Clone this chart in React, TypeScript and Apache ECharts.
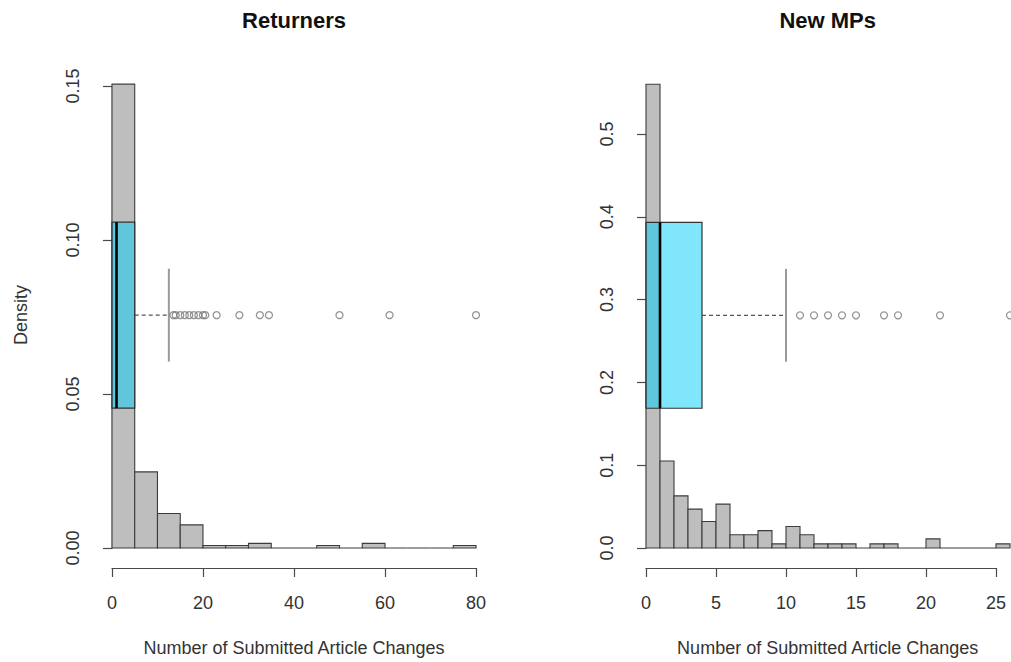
import React, { useEffect, useRef } from "react";
import * as echarts from "echarts";

// ---- Data ----
const retBreaks = [0, 5, 10, 15, 20, 25, 30, 35, 40, 45, 50, 55, 60, 65, 70, 75, 80];
const retDensity = [0.1506, 0.0247, 0.0112, 0.0075, 0.0008, 0.0008, 0.0015, 0, 0, 0.0008, 0, 0.0015, 0, 0, 0, 0.0008];
const retBox = [0, 1, 5, 0, 12.5]; // q1, median, q3, lower whisker, upper whisker
const retOutliers = [13.5, 14, 15, 16, 17, 18, 19, 20, 20.5, 23, 28, 32.5, 34.5, 50, 61, 80];

const newBreaks = [0, 1, 2, 3, 4, 5, 6, 7, 8, 9, 10, 11, 12, 13, 14, 15, 16, 17, 18, 19, 20, 21, 22, 23, 24, 25, 26];
const newDensity = [0.56, 0.105, 0.063, 0.047, 0.032, 0.053, 0.016, 0.016, 0.021, 0.005, 0.026, 0.016, 0.005, 0.005, 0.005, 0, 0.005, 0.005, 0, 0, 0.011, 0, 0, 0, 0, 0.005];
const newBox = [0, 1, 4, 0, 10];
const newOutliers = [11, 12, 13, 14, 15, 17, 18, 21, 26];

const retXTicks = { min: 0, max: 80, interval: 20 };
const retYTicks = { min: 0, max: 0.15, interval: 0.05 };
const newXTicks = { min: 0, max: 25, interval: 5 };
const newYTicks = { min: 0, max: 0.5, interval: 0.1 };

// boxplot placement (density units): center and half height
const retBoxAt = 0.0756;
const retBoxHalf = 0.0302;
const newBoxAt = 0.281;
const newBoxHalf = 0.1122;

const FONT = '"Liberation Sans", Arial, Helvetica, sans-serif';
const AXIS_COLOR = "#4a4a4a";
const TEXT_COLOR = "#333";

function histSeries(breaks: number[], dens: number[], idx: number) {
  return {
    type: "custom",
    xAxisIndex: idx,
    yAxisIndex: idx,
    clip: false,
    encode: { x: [0, 1], y: 2 },
    data: dens.map((d, i) => [breaks[i], breaks[i + 1], d]),
    renderItem: (params: any, api: any) => {
      const p0 = api.coord([api.value(0), api.value(2)]);
      const p1 = api.coord([api.value(1), 0]);
      return {
        type: "rect",
        shape: { x: p0[0], y: p0[1], width: p1[0] - p0[0], height: p1[1] - p0[1] },
        style: { fill: "#BEBEBE", stroke: "#3c3c3c", lineWidth: 1.1 },
      };
    },
  };
}

function boxSeries(box: number[], at: number, half: number, idx: number) {
  return {
    type: "custom",
    xAxisIndex: idx,
    yAxisIndex: idx,
    clip: false,
    data: [box],
    renderItem: (params: any, api: any) => {
      const q1 = api.value(0), med = api.value(1), q3 = api.value(2), hi = api.value(4);
      const tl = api.coord([q1, at + half]);
      const br = api.coord([q3, at - half]);
      const c3 = api.coord([q3, at]);
      const ch = api.coord([hi, at]);
      const capTop = api.coord([hi, at + half / 2]);
      const capBot = api.coord([hi, at - half / 2]);
      const mt = api.coord([med, at + half]);
      const mb = api.coord([med, at - half]);
      return {
        type: "group",
        children: [
          {
            type: "line",
            shape: { x1: c3[0], y1: c3[1], x2: ch[0], y2: ch[1] },
            style: { stroke: "#555", lineWidth: 1.3, lineDash: [4, 3] },
          },
          {
            type: "line",
            shape: { x1: capTop[0], y1: capTop[1], x2: capBot[0], y2: capBot[1] },
            style: { stroke: "#9a9a9a", lineWidth: 2 },
          },
          {
            type: "rect",
            shape: { x: tl[0], y: tl[1], width: br[0] - tl[0], height: br[1] - tl[1] },
            style: { fill: "rgba(0,205,248,0.5)", stroke: "#333", lineWidth: 1.2 },
          },
          {
            type: "line",
            shape: { x1: mt[0], y1: mt[1], x2: mb[0], y2: mb[1] },
            style: { stroke: "#000", lineWidth: 2.6 },
          },
        ],
      };
    },
  };
}

function outlierSeries(vals: number[], at: number, idx: number) {
  return {
    type: "scatter",
    xAxisIndex: idx,
    yAxisIndex: idx,
    clip: false,
    symbol: "circle",
    symbolSize: 7,
    itemStyle: { color: "rgba(255,255,255,0)", borderColor: "#7a7a7a", borderWidth: 1.3 },
    data: vals.map((v) => [v, at]),
    silent: true,
  };
}

const axisCommon = {
  axisLine: { show: true, lineStyle: { color: AXIS_COLOR, width: 1.2 } },
  axisTick: { show: true, inside: false, length: 9, lineStyle: { color: AXIS_COLOR, width: 1.2 } },
  splitLine: { show: false },
};

function centeredText(text: string, x: number, y: number, size: number, bold: boolean, rotation = 0) {
  return {
    type: "text",
    x,
    y,
    rotation,
    style: {
      text,
      fontSize: size,
      fontWeight: bold ? "bold" : "normal",
      fontFamily: FONT,
      fill: bold ? "#111" : TEXT_COLOR,
      align: "center",
      verticalAlign: "middle",
      textAlign: "center",
      textVerticalAlign: "middle",
    },
  };
}

export default function App() {
  const ref = useRef<HTMLDivElement>(null);
  useEffect(() => {
    if (!ref.current) return;
    const chart = echarts.init(ref.current, undefined, { renderer: "svg" });
    const option: any = {
      animation: false,
      backgroundColor: "#fff",
      textStyle: { fontFamily: FONT },
      grid: [
        { left: 97.4, width: 393.2, top: 86, height: 462 },
        { left: 112, width: 364, top: 540, height: 28 },
        { left: 631.44, width: 379.56, top: 134, height: 414 },
        { left: 646, width: 350, top: 540, height: 28 },
      ],
      xAxis: [
        { type: "value", gridIndex: 0, min: -3.2, max: 83.2, show: false },
        {
          type: "value",
          gridIndex: 1,
          position: "bottom",
          ...retXTicks,
          ...axisCommon,
          axisLabel: { margin: 26, fontSize: 18, color: TEXT_COLOR, fontFamily: FONT },
        },
        { type: "value", gridIndex: 2, min: -1.04, max: 26.0714, show: false },
        {
          type: "value",
          gridIndex: 3,
          position: "bottom",
          ...newXTicks,
          ...axisCommon,
          axisLabel: { margin: 26, fontSize: 18, color: TEXT_COLOR, fontFamily: FONT },
        },
      ],
      yAxis: [
        {
          type: "value",
          gridIndex: 0,
          ...retYTicks,
          ...axisCommon,
          axisLabel: {
            rotate: 90,
            margin: 15,
            fontSize: 18,
            color: TEXT_COLOR,
            fontFamily: FONT,
            formatter: (v: number) => v.toFixed(2),
          },
        },
        { type: "value", gridIndex: 1, show: false, min: 0, max: 1 },
        {
          type: "value",
          gridIndex: 2,
          ...newYTicks,
          ...axisCommon,
          axisLabel: {
            rotate: 90,
            margin: 15,
            fontSize: 18,
            color: TEXT_COLOR,
            fontFamily: FONT,
            formatter: (v: number) => v.toFixed(1),
          },
        },
        { type: "value", gridIndex: 3, show: false, min: 0, max: 1 },
      ],
      graphic: [
        centeredText("Returners", 294, 20, 22, true),
        centeredText("New MPs", 827.7, 20, 22, true),
        centeredText("Number of Submitted Article Changes", 294, 648, 18, false),
        centeredText("Number of Submitted Article Changes", 827.7, 648, 18, false),
        centeredText("Density", 21, 315, 18, false, Math.PI / 2),
      ],
      series: [
        histSeries(retBreaks, retDensity, 0),
        boxSeries(retBox, retBoxAt, retBoxHalf, 0),
        outlierSeries(retOutliers, retBoxAt, 0),
        histSeries(newBreaks, newDensity, 2),
        boxSeries(newBox, newBoxAt, newBoxHalf, 2),
        outlierSeries(newOutliers, newBoxAt, 2),
      ],
    };
    chart.setOption(option);
    return () => chart.dispose();
  }, []);
  return (
    <div
      ref={ref}
      style={{ position: "absolute", left: 0, top: 0, width: 1011, height: 662, background: "#fff" }}
    />
  );
}
